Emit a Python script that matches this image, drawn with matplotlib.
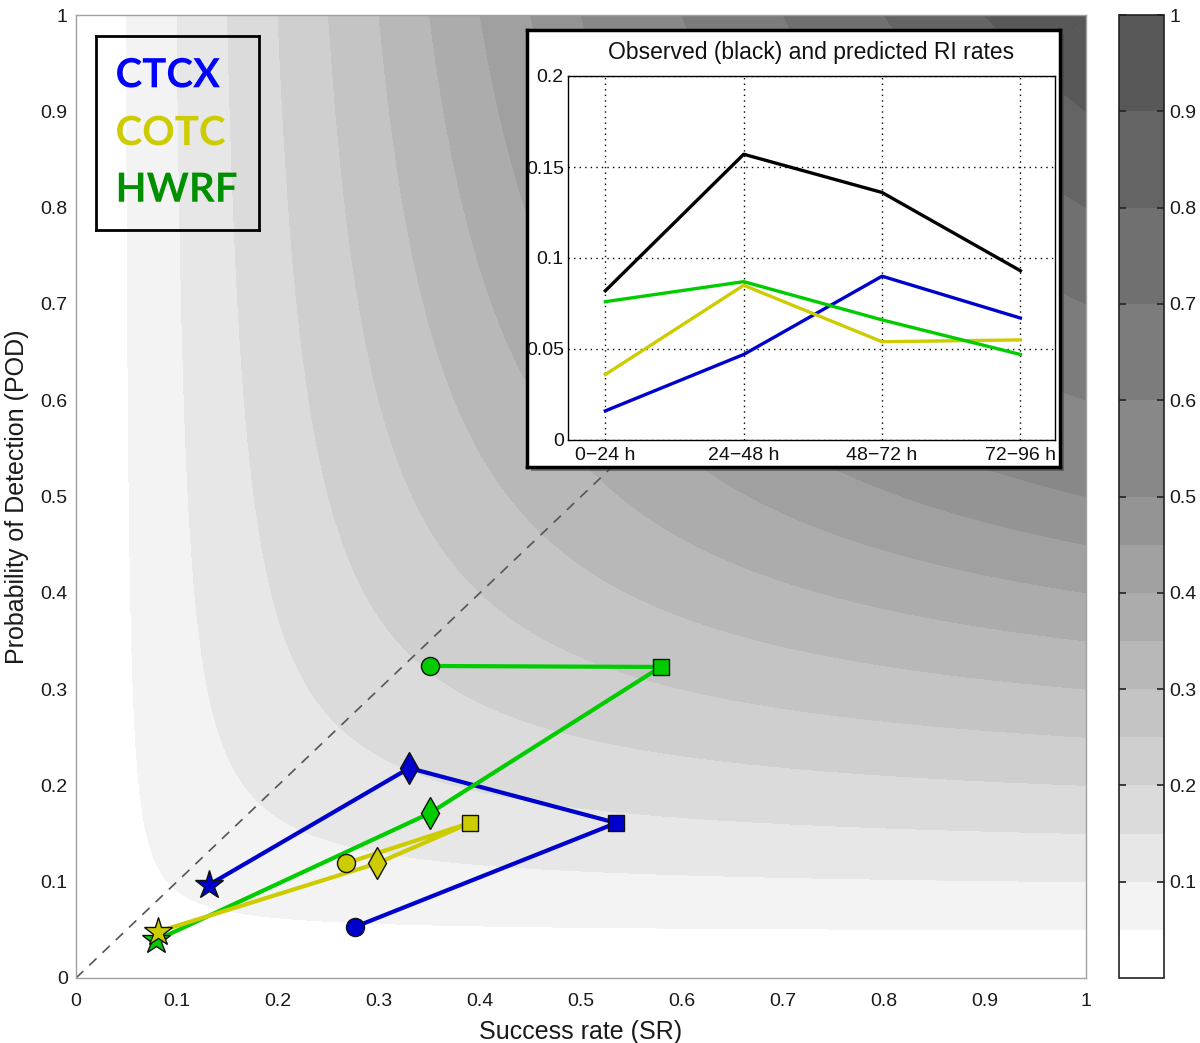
import numpy as np
import matplotlib
matplotlib.use("Agg")
import matplotlib.pyplot as plt
from matplotlib import patheffects as pe
from matplotlib.patches import Rectangle

plt.rcParams['font.family'] = ['Liberation Sans', 'DejaVu Sans']

# ---------------- data ----------------
models = ["CTCX", "COTC", "HWRF"]
# order of points: 0-24 h (star), 24-48 h (diamond), 48-72 h (square), 72-96 h (circle)
ctcx_sr = [0.132, 0.330, 0.535, 0.276]
ctcx_pod = [0.097, 0.218, 0.161, 0.053]
cotc_sr = [0.081, 0.298, 0.390, 0.267]
cotc_pod = [0.048, 0.119, 0.161, 0.119]
hwrf_sr = [0.079, 0.350, 0.579, 0.350]
hwrf_pod = [0.039, 0.171, 0.323, 0.324]

periods = ["0\u221224 h", "24\u221248 h", "48\u221272 h", "72\u221296 h"]
obs_rate = [0.082, 0.157, 0.136, 0.093]
ctcx_rate = [0.016, 0.047, 0.090, 0.067]
cotc_rate = [0.036, 0.085, 0.054, 0.055]
hwrf_rate = [0.076, 0.087, 0.066, 0.047]

csi_levels = [0, 0.05, 0.1, 0.15, 0.2, 0.25, 0.3, 0.35, 0.4, 0.45, 0.5, 0.6, 0.7, 0.8, 0.9, 1.0]
main_ticks = [0, 0.1, 0.2, 0.3, 0.4, 0.5, 0.6, 0.7, 0.8, 0.9, 1.0]
main_ticklabels = ["0", "0.1", "0.2", "0.3", "0.4", "0.5", "0.6", "0.7", "0.8", "0.9", "1"]
cbar_ticks = [0.1, 0.2, 0.3, 0.4, 0.5, 0.6, 0.7, 0.8, 0.9, 1.0]
cbar_ticklabels = ["0.1", "0.2", "0.3", "0.4", "0.5", "0.6", "0.7", "0.8", "0.9", "1"]
inset_yticks = [0, 0.05, 0.1, 0.15, 0.2]
inset_yticklabels = ["0", "0.05", "0.1", "0.15", "0.2"]

# ---------------- styles ----------------
BLUE = "#0000cc"
YELLOW = "#cccc00"
GREEN = "#00cc00"
markers = ["*", "d", "s", "o"]
msizes = [21, 16, 12, 13]

W, H = 1200, 1043
fig = plt.figure(figsize=(W / 100, H / 100), dpi=100)

def fx(px):
    return px / W

def fy(py):
    return 1 - py / H

# main axes
ax = fig.add_axes([fx(76), fy(978), fx(1086) - fx(76), fy(15) - fy(978)])
sr = np.linspace(0.0005, 1, 600)
pod = np.linspace(0.0005, 1, 600)
SR, POD = np.meshgrid(sr, pod)
CSI = 1.0 / (1.0 / SR + 1.0 / POD - 1.0)
nb = len(csi_levels) - 1
band_colors = [str((255 - k * 11.9) / 255) for k in range(nb)]
cf = ax.contourf(SR, POD, CSI, levels=csi_levels, colors=band_colors, zorder=0)
ax.plot([0, 1], [0, 1], color="#555555", ls=(0, (6, 5)), lw=1.2, zorder=1)
ax.set_xlim(0, 1)
ax.set_ylim(0, 1)
ax.set_xticks(main_ticks)
ax.set_xticklabels(main_ticklabels)
ax.set_yticks(main_ticks)
ax.set_yticklabels(main_ticklabels)
ax.tick_params(length=0, labelsize=14, colors="#1a1a1a")
ax.tick_params(axis="x", pad=11)
ax.tick_params(axis="y", pad=6)
for s in ax.spines.values():
    s.set_color("#a0a0a0")
    s.set_linewidth(1.0)
ax.set_xlabel("Success rate (SR)", fontsize=18, labelpad=7, color="#1a1a1a")
ax.set_ylabel("Probability of Detection (POD)", fontsize=18, labelpad=8, color="#1a1a1a")

series = [(ctcx_sr, ctcx_pod, BLUE), (hwrf_sr, hwrf_pod, GREEN), (cotc_sr, cotc_pod, YELLOW)]
for xs, ys, c in series:
    ax.plot(xs, ys, color=c, lw=3, zorder=3)
for xs, ys, c in series:
    for i in range(len(xs)):
        ax.plot(xs[i], ys[i], marker=markers[i], ms=msizes[i], mfc=c, mec="#111111",
                mew=1.0, ls="none", zorder=4)

# legend box with model names
lg = fig.add_axes([fx(96), fy(230), fx(259) - fx(96), fy(36) - fy(230)])
lg.set_facecolor("none")
lg.set_xticks([])
lg.set_yticks([])
for s in lg.spines.values():
    s.set_color("black")
    s.set_linewidth(2)
lg.set_xlim(0, 1)
lg.set_ylim(0, 1)
name_cols = ["#0000ff", "#cccc00", "#008f00"]
name_y = [0.795, 0.497, 0.205]
for nm, c, yy in zip(models, name_cols, name_y):
    lg.text(0.12, yy, nm, color=c, fontsize=29, fontweight="bold", family="Lato",
            va="center", ha="left",
            path_effects=[pe.SimpleLineShadow(offset=(2, -2), shadow_color="#888888", alpha=0.6),
                          pe.Normal()])

# inset outer box
sh = Rectangle((fx(531), fy(471)), fx(1064) - fx(531), fy(34) - fy(471),
               transform=fig.transFigure, facecolor="#444444", edgecolor="none", alpha=0.6, zorder=5)
fig.add_artist(sh)
box = fig.add_axes([fx(527), fy(467), fx(1060) - fx(527), fy(30) - fy(467)])
box.set_zorder(6)
box.set_facecolor("white")
box.set_xticks([])
box.set_yticks([])
for s in box.spines.values():
    s.set_color("black")
    s.set_linewidth(2.5)

ins = fig.add_axes([fx(568), fy(440), fx(1055) - fx(568), fy(76) - fy(440)])
ins.set_zorder(7)
xi = np.arange(1, len(periods) + 1)
ins.plot(xi, obs_rate, color="black", lw=2.4)
ins.plot(xi, ctcx_rate, color=BLUE, lw=2.4)
ins.plot(xi, cotc_rate, color=YELLOW, lw=2.4)
ins.plot(xi, hwrf_rate, color=GREEN, lw=2.4)
ins.set_xlim(0.73, 4.25)
ins.set_ylim(0, 0.2)
ins.set_xticks(xi)
ins.set_xticklabels(periods)
ins.set_yticks(inset_yticks)
ins.set_yticklabels(inset_yticklabels)
ins.grid(True, color="black", ls=(0, (1, 3)), lw=1.0)
ins.tick_params(length=0, labelsize=14, colors="#111111", pad=3)
ins.tick_params(axis="x", pad=5)
for s in ins.spines.values():
    s.set_color("black")
    s.set_linewidth(1.0)
ins.set_title("Observed (black) and predicted RI rates", fontsize=16.5, pad=12, color="#111111")

# colorbar
cax = fig.add_axes([fx(1119), fy(978), fx(1164) - fx(1119), fy(15) - fy(978)])
cb = fig.colorbar(cf, cax=cax, spacing="proportional")
cb.set_ticks(cbar_ticks)
cb.set_ticklabels(cbar_ticklabels)
cb.outline.set_edgecolor("#222222")
cb.outline.set_linewidth(1.2)
cax.tick_params(direction="in", left=True, right=True, length=5, width=1.2,
                labelsize=14, colors="#222222", pad=4)
cax.tick_params(axis="y", labelcolor="#1a1a1a")

fig.savefig("out.png", dpi=100)
